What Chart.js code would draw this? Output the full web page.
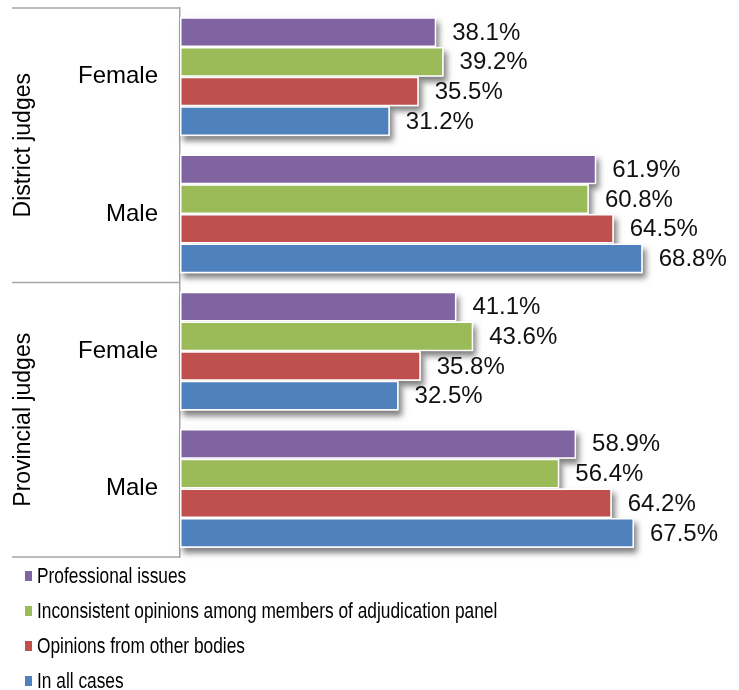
<!DOCTYPE html>
<html><head><meta charset="utf-8">
<script src="https://cdn.jsdelivr.net/npm/chart.js@4"></script>
<style>html,body{margin:0;padding:0;background:#fff}#wrap{width:739px;height:690px}</style>
</head><body><div id="wrap"><canvas id="c" width="739" height="690"></canvas></div>
<script>
const categories = ['Female', 'Male', 'Female', 'Male'];
const groups = ['District judges', 'Provincial judges'];
const seriesNames = ['Professional issues', 'Inconsistent opinions among members of adjudication panel', 'Opinions from other bodies', 'In all cases'];
const professional = [38.1, 61.9, 41.1, 58.9];
const inconsistent = [39.2, 60.8, 43.6, 56.4];
const otherBodies = [35.5, 64.5, 35.8, 64.2];
const allCases = [31.2, 68.8, 32.5, 67.5];
const colors = ['#8064A2', '#9BBB59', '#C0504D', '#4F81BD'];

const FONT = '"Liberation Sans", Arial, sans-serif';

const shadowPlugin = {
  id: 'shadows',
  beforeDatasetsDraw(chart) {
    const ctx = chart.ctx;
    chart.data.datasets.forEach((ds, i) => {
      const meta = chart.getDatasetMeta(i);
      meta.data.forEach(el => {
        const p = el.getProps(['x', 'y', 'base', 'height'], true);
        const left = Math.min(p.base, p.x), w = Math.abs(p.x - p.base);
        ctx.save();
        ctx.shadowColor = 'rgba(0,0,0,0.5)';
        ctx.shadowBlur = 6;
        ctx.shadowOffsetX = 3;
        ctx.shadowOffsetY = 5;
        ctx.fillStyle = '#fff';
        ctx.fillRect(left, p.y - p.height / 2, w, p.height);
        ctx.restore();
      });
    });
  }
};

const labelsPlugin = {
  id: 'valueLabels',
  afterDatasetsDraw(chart) {
    const ctx = chart.ctx;
    ctx.save();
    ctx.font = '24px ' + FONT;
    ctx.fillStyle = '#111';
    ctx.textBaseline = 'middle';
    ctx.textAlign = 'left';
    chart.data.datasets.forEach((ds, i) => {
      const meta = chart.getDatasetMeta(i);
      meta.data.forEach((el, j) => {
        const p = el.getProps(['x', 'y'], true);
        ctx.fillText(ds.data[j].toFixed(1) + '%', p.x + 16, p.y + 1);
      });
    });
    ctx.restore();
  }
};

const framePlugin = {
  id: 'frame',
  afterDraw(chart) {
    const ctx = chart.ctx, a = chart.chartArea, ys = chart.scales.y;
    const mid = (ys.getPixelForValue(1) + ys.getPixelForValue(2)) / 2;
    ctx.save();
    ctx.strokeStyle = '#a6a6a6';
    ctx.lineWidth = 1.5;
    [a.top, mid, a.bottom].forEach(y => {
      ctx.beginPath();
      ctx.moveTo(12, y);
      ctx.lineTo(a.left, y);
      ctx.stroke();
    });
    ctx.fillStyle = '#000';
    ctx.font = '23px ' + FONT;
    ctx.textAlign = 'center';
    ctx.textBaseline = 'middle';
    groups.forEach((g, k) => {
      const cy = (ys.getPixelForValue(2 * k) + ys.getPixelForValue(2 * k + 1)) / 2;
      ctx.save();
      ctx.translate(24, cy);
      ctx.rotate(-Math.PI / 2);
      ctx.fillText(g, 0, 0);
      ctx.restore();
    });
    ctx.restore();
  }
};

const legendPlugin = {
  id: 'listLegend',
  afterDraw(chart) {
    const ctx = chart.ctx, a = chart.chartArea;
    ctx.save();
    chart.data.datasets.forEach((ds, i) => {
      const y = a.bottom + 19 + i * 35;
      ctx.fillStyle = ds.backgroundColor;
      ctx.fillRect(25, y - 5, 7, 10);
      ctx.save();
      ctx.translate(37, y);
      ctx.scale(0.77, 1);
      ctx.fillStyle = '#000';
      ctx.font = '22.5px ' + FONT;
      ctx.textBaseline = 'middle';
      ctx.textAlign = 'left';
      ctx.fillText(ds.label, 0, 1);
      ctx.restore();
    });
    ctx.restore();
  }
};

const seriesData = [professional, inconsistent, otherBodies, allCases];

new Chart(document.getElementById('c'), {
  type: 'bar',
  data: {
    labels: categories,
    datasets: seriesData.map((d, i) => ({
      label: seriesNames[i],
      data: d,
      backgroundColor: colors[i],
      borderColor: '#ffffff',
      borderWidth: 1.5,
      borderSkipped: false,
      categoryPercentage: 0.867,
      barPercentage: 1
    }))
  },
  options: {
    indexAxis: 'y',
    responsive: false,
    animation: false,
    devicePixelRatio: 1,
    layout: { autoPadding: false, padding: { top: 8, bottom: 133, right: 21, left: 0 } },
    plugins: { legend: { display: false }, tooltip: { enabled: false } },
    scales: {
      x: { display: false, min: 0, max: 80 },
      y: {
        grid: { display: false, drawTicks: false },
        border: { display: true, color: '#a6a6a6', width: 1.5 },
        ticks: { padding: 22, color: '#000', font: { family: FONT, size: 24 } },
        afterFit(s) { s.width = 180; s.paddingTop = 0; s.paddingBottom = 0; }
      }
    }
  },
  plugins: [shadowPlugin, labelsPlugin, framePlugin, legendPlugin]
});
</script>
</body></html>
